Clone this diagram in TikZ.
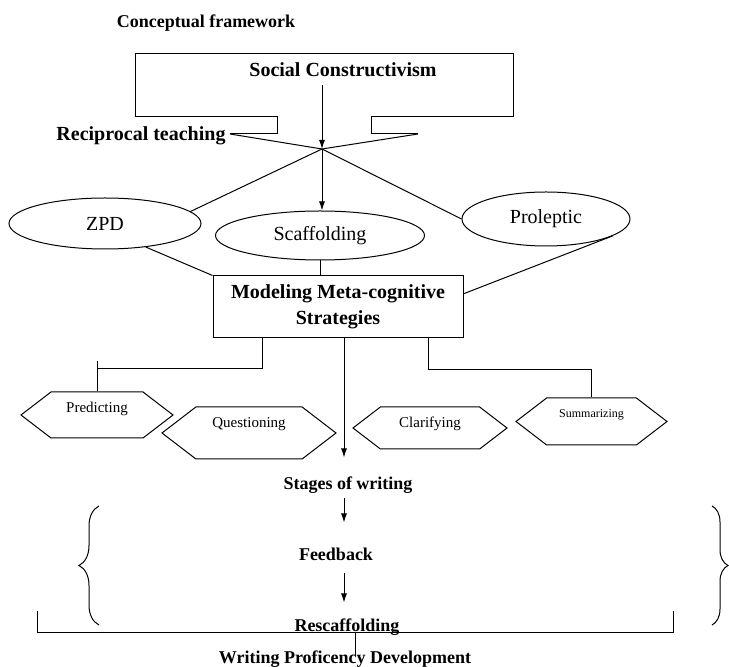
\documentclass[tikz,border=0pt]{standalone}
\usepackage{fontspec}
\setmainfont{Liberation Serif}
\usetikzlibrary{arrows.meta,shapes.geometric,shapes.symbols,calc,decorations.pathreplacing}

\tikzset{
  link/.style={line width=0.5pt},
  arr/.style={line width=0.5pt, -{Latex[length=4.5pt,width=3pt]}},
  head/.style={font=\bfseries\fontsize{10}{12}\selectfont, inner sep=0pt, text height=6.8pt, text depth=2pt},
  sub/.style={font=\bfseries\fontsize{9}{11}\selectfont, inner sep=0pt, text height=6.3pt, text depth=1.8pt},
  oval/.style={draw, ellipse, line width=0.5pt, font=\fontsize{10}{12}\selectfont, inner sep=0pt},
  hexa/.style={draw, signal, signal to=west and east, signal pointer angle=75, line width=0.5pt,
    font=\fontsize{7.5}{9}\selectfont, text height=5pt}
}

\begin{document}
\begin{tikzpicture}[x=0.5pt, y=-0.5pt]
    \useasboundingbox (0,0) rectangle (729,667);

    % Title
    \node[sub] (title) at (206,23) {Conceptual framework};

    % Social constructivism frame
    \node[head] (social) at (343,72) {Social Constructivism};
    \node[head] (recip) at (141,136) {Reciprocal teaching};
    \coordinate (hub) at (322,149);
    \coordinate (lt) at (230,134);
    \coordinate (rt) at (418,134);
    \draw[link] (lt) -- (277,134) -- (277,117) -- (135,117) -- (135,54) -- (513,54)
        -- (513,117) -- (371,117) -- (371,134) -- (rt);
    \draw[link] (lt) -- (hub) -- (rt);
    \draw[arr, shorten <=2pt] (hub |- social.south) -- (hub);

    % Ellipses
    \node[oval, minimum width=96pt, minimum height=25.5pt] (zpd) at (105,223.5) {ZPD};
    \node[oval, minimum width=104.5pt, minimum height=24.5pt] (scaff) at (320,235.5) {Scaffolding};
    \node[oval, minimum width=84pt, minimum height=27pt] (prol) at (546,219) {Proleptic};
    \draw[link] (hub) -- (zpd.8);
    \draw[link] (hub) -- (prol.west);
    \draw[arr] (hub) -- (hub |- scaff.north);

    % Strategies box
    \node[draw, link, minimum width=125pt, minimum height=31pt, align=center,
        font=\bfseries\fontsize{10}{13}\selectfont] (model) at (338,307)
        {Modeling Meta-cognitive\\Strategies};
    \draw[link] (zpd.-30) -- (model.north west);
    \draw[link] (scaff.south) -- (scaff.south |- model.north);
    \draw[link] (prol.-14) -- (model.6);

    % Hexagons
    \node[hexa, minimum width=76pt, minimum height=23pt, text depth=7pt] (pred) at (97,415) {Predicting};
    \node[hexa, minimum width=87pt, minimum height=26pt, text depth=10pt] (quest) at (249,433) {Questioning};
    \node[hexa, minimum width=77pt, minimum height=21pt, text depth=5pt] (clar) at (430,428) {Clarifying};
    \node[hexa, minimum width=75.5pt, minimum height=23.5pt, text depth=8.5pt,
        font=\fontsize{6}{7}\selectfont] (summ) at (591.5,421.5) {Summarizing};
    \draw[link] ($(model.south west)+(50,0)$) -- ++(0,30) -| (pred.north);
    \draw[link] (pred.north) -- ++(0,-30);
    \draw[link] ($(model.south east)+(-35,0)$) -- ++(0,31) -| (summ.north);

    % Writing stages
    \coordinate (col) at ($(model.south)+(6,0)$);
    \node[sub] (stages) at (348,485) {Stages of writing};
    \node[sub] (feed) at (336,556) {Feedback};
    \node[sub] (resc) at (347,627) {Rescaffolding};
    \node[sub] (wpd) at (345,659) {Writing Proficency Development};
    \draw[arr, shorten >=9.5pt] (col) -- (col |- stages.north);
    \draw[arr, shorten <=2.5pt, shorten >=12.5pt] (col |- stages.south) -- (col |- feed.north);
    \draw[arr, shorten <=4.5pt, shorten >=8pt] (col |- feed.south) -- (col |- resc.north);

    % Braces and base line
    \draw[link, decorate, decoration={brace, amplitude=10pt}] (99,625) -- (99,506);
    \draw[link, decorate, decoration={brace, amplitude=8pt}] (712,506) -- (712,625);
    \draw[link] (37,611) |- (673,633) -- (673,611);
    \coordinate (bar) at (355,633);
    \draw[link] (bar) -- ++(0,23);
\end{tikzpicture}
\end{document}
